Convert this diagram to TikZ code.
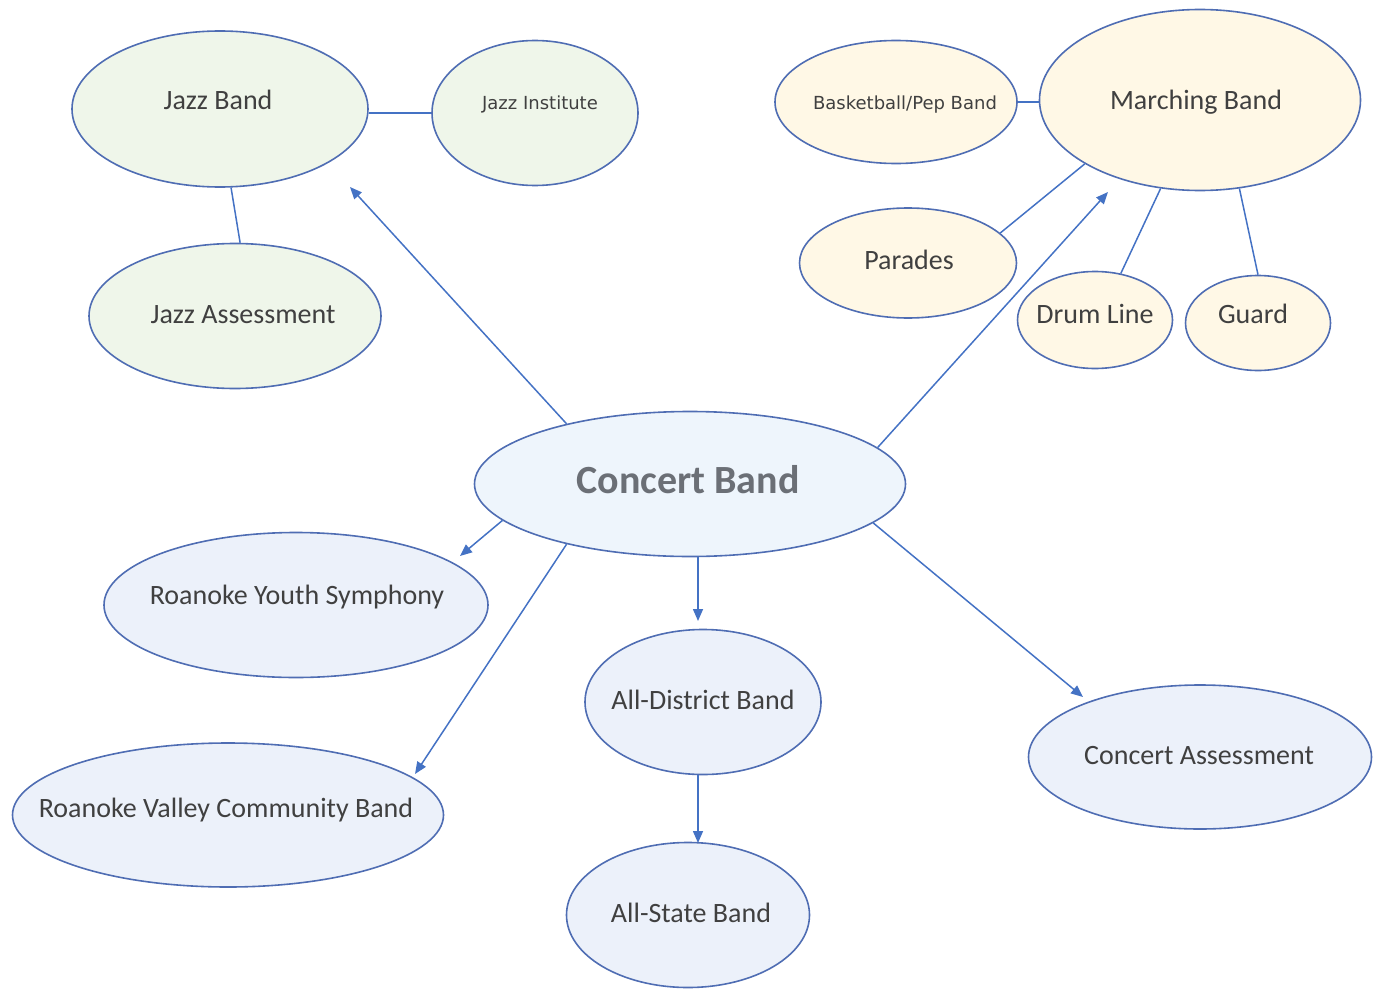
\documentclass[tikz,border=0pt]{standalone}
\usepackage{fontspec}
\setmainfont{Carlito}
\newfontfamily\smallfam{DejaVu Sans}
\usetikzlibrary{shapes.geometric,arrows.meta}
\definecolor{edgeblue}{HTML}{4F6DB3}
\definecolor{lineblue}{HTML}{4472C4}
\definecolor{fillgreen}{HTML}{EFF6EA}
\definecolor{fillyellow}{HTML}{FFF8E6}
\definecolor{fillblue}{HTML}{ECF1FA}
\definecolor{fillcb}{HTML}{EEF5FC}
\definecolor{txtgray}{HTML}{404040}
\definecolor{cbgray}{HTML}{6B6F76}
\tikzset{
  ell/.style={ellipse, draw=edgeblue, line width=1.6pt, inner sep=0pt},
  txt/.style={anchor=base, text=txtgray, font=\fontsize{28}{30}\selectfont, inner sep=0pt},
  smalltxt/.style={anchor=base, text=txtgray, font=\smallfam\fontsize{18}{20}\selectfont, inner sep=0pt},
  conn/.style={draw=lineblue, line width=1.5pt},
  arr/.style={conn, -{Triangle[length=12pt,width=10pt]}}
}
\begin{document}
\begin{tikzpicture}[x=1pt,y=-1pt]
\useasboundingbox (0,0) rectangle (1373,990);
% ellipses
\node[ell, fill=fillgreen, minimum width=296pt, minimum height=156pt] (JB) at (220,109) {};
\node[ell, fill=fillgreen, minimum width=206pt, minimum height=145pt] (JI) at (535,113) {};
\node[ell, fill=fillgreen, minimum width=292pt, minimum height=145pt] (JA) at (235,316) {};
\node[ell, fill=fillyellow, minimum width=242pt, minimum height=123pt] (BB) at (896,102) {};
\node[ell, fill=fillyellow, minimum width=321pt, minimum height=181pt] (MB) at (1200,100) {};
\node[ell, fill=fillyellow, minimum width=217pt, minimum height=110pt] (PA) at (908,263) {};
\node[ell, fill=fillyellow, minimum width=155pt, minimum height=97pt] (DL) at (1095,320) {};
\node[ell, fill=fillyellow, minimum width=145pt, minimum height=95pt] (GD) at (1258,323) {};
\node[ell, fill=fillcb, minimum width=431pt, minimum height=145pt] (CB) at (690,484) {};
\node[ell, fill=fillblue, minimum width=384pt, minimum height=145pt] (RY) at (296,605) {};
\node[ell, fill=fillblue, minimum width=236pt, minimum height=145pt] (AD) at (703,702) {};
\node[ell, fill=fillblue, minimum width=343pt, minimum height=144pt] (CA) at (1200,757) {};
\node[ell, fill=fillblue, minimum width=431pt, minimum height=144pt] (RV) at (228,815) {};
\node[ell, fill=fillblue, minimum width=243pt, minimum height=145pt] (AS) at (688,915) {};
% texts
\node[txt] (JBt) at (218,110) {Jazz Band};
\node[smalltxt] (JIt) at (540,110) {Jazz Institute};
\node[txt] (JAt) at (243,323) {Jazz Assessment};
\node[smalltxt] (BBt) at (905,110) {Basketball/Pep Band};
\node[txt] (MBt) at (1196,110) {Marching Band};
\node[txt] (PAt) at (909,269) {Parades};
\node[txt] (DLt) at (1095,323) {Drum Line};
\node[txt] (GDt) at (1253,323) {Guard};
\node[anchor=base, inner sep=0pt, text=cbgray, font=\bfseries\fontsize{40}{44}\selectfont] (CBt) at (688,493) {Concert Band};
\node[txt] (RYt) at (297,604) {Roanoke Youth Symphony};
\node[txt] (ADt) at (703,709) {All-District Band};
\node[txt] (CAt) at (1199,764) {Concert Assessment};
\node[txt] (RVt) at (226,817) {Roanoke Valley Community Band};
\node[txt] (ASt) at (691,922) {All-State Band};
% free ends
\coordinate (tipJ) at (350,187);
\coordinate (tipM) at (1108,192);
\coordinate (tipR) at (460,556);
\coordinate (tipV) at (415,774);
\coordinate (tipD) at (698,621);
\coordinate (tipC) at (1083,697);
\coordinate (adS) at (698,775);
\coordinate (asN) at (698,843);
% plain connectors
\draw[conn] (JI.west) -- (JI.west -| JB.east);
\draw[conn] (JB.-82) -- (JA.86);
\draw[conn] (BB.east) -- (BB.east -| MB.west);
\draw[conn] (PA.18) -- (MB.209);
\draw[conn] (DL.61) -- (MB.246);
\draw[conn] (GD.north) -- (MB.294);
% arrows
\draw[arr] (CB.154.6) -- (tipJ);
\draw[arr] (CB.11.7) -- (tipM);
\draw[arr] (CB.191.2) -- (tipR);
\draw[arr] (CB.206.9) -- (tipV);
\draw[arr] (CB.south -| tipD) -- (tipD);
\draw[arr] (CB.348.1) -- (tipC);
\draw[arr] (adS) -- (asN);
\end{tikzpicture}
\end{document}
